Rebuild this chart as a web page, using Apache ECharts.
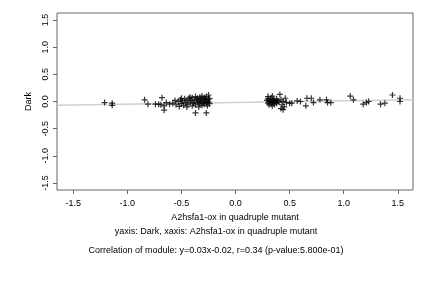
<!DOCTYPE html>
<html><head><meta charset="utf-8">
<script src="https://cdn.jsdelivr.net/npm/echarts@6/dist/echarts.min.js"></script>
<style>html,body{margin:0;padding:0;background:#fff}#c{width:432px;height:288px}</style>
</head><body><div id="c"></div>
<script>
var xTicks = [-1.5, -1.0, -0.5, 0.0, 0.5, 1.0, 1.5];
var yTicks = [-1.5, -1.0, -0.5, 0.0, 0.5, 1.0, 1.5];
var xRange = [-1.65, 1.64];
var yRange = [-1.63, 1.63];
var fitLine = [[-1.65, -0.07], [1.64, 0.03]];
var leftPoints = [
  [-1.21,-0.02],[-1.14,-0.03],[-1.14,-0.07],[-0.84,0.03],[-0.81,-0.05],[-0.74,-0.05],
  [-0.71,-0.05],[-0.69,-0.06],[-0.68,0.07],[-0.66,-0.08],[-0.66,-0.16],[-0.64,-0.02],
  [-0.61,-0.05],[-0.37,-0.21],[-0.27,-0.21],[-0.25,0.12],
  [-0.58,-0.03],[-0.56,0.02],[-0.55,-0.06],[-0.53,0.00],[-0.52,-0.09],[-0.51,0.03],
  [-0.50,-0.04],[-0.49,0.01],[-0.48,-0.07],[-0.47,0.05],[-0.46,-0.02],[-0.45,0.02],
  [-0.44,-0.05],[-0.43,0.06],[-0.42,-0.01],[-0.41,0.03],[-0.40,-0.08],[-0.40,0.07],
  [-0.39,-0.03],[-0.38,0.01],[-0.37,0.09],[-0.37,-0.06],[-0.36,0.04],[-0.35,-0.02],
  [-0.35,0.06],[-0.34,-0.10],[-0.34,0.02],[-0.33,0.08],[-0.33,-0.04],[-0.32,0.00],
  [-0.32,0.05],[-0.31,-0.07],[-0.31,0.10],[-0.30,0.03],[-0.30,-0.02],[-0.29,0.07],
  [-0.29,-0.05],[-0.28,0.01],[-0.28,0.05],[-0.27,-0.03],[-0.27,0.09],[-0.26,0.00],
  [-0.26,-0.08],[-0.25,0.04],[-0.25,-0.01],[-0.24,0.06],[-0.24,-0.04],[-0.45,-0.10],
  [-0.50,0.06],[-0.42,0.08]
];
var rightPoints = [
  [0.30,0.09],[0.34,0.10],[0.41,0.13],[0.42,-0.13],[0.43,-0.06],[0.46,0.06],[0.47,-0.02],
  [0.50,-0.03],[0.52,-0.03],[0.57,0.01],[0.60,0.00],[0.65,-0.08],[0.66,0.06],[0.70,0.06],
  [0.72,-0.02],[0.78,0.03],[0.84,0.03],[0.85,-0.02],[0.88,-0.02],[1.06,0.10],[1.09,0.03],
  [1.18,-0.05],[1.21,-0.02],[1.23,0.00],[1.34,-0.05],[1.38,-0.03],[1.45,0.12],[1.52,0.06],
  [1.52,0.00],
  [0.29,0.02],[0.30,-0.03],[0.30,0.05],[0.31,0.00],[0.31,-0.06],[0.32,0.03],[0.32,-0.01],
  [0.33,0.06],[0.33,-0.04],[0.34,0.01],[0.34,-0.08],[0.35,0.04],[0.35,-0.02],[0.36,0.02],
  [0.36,-0.05],[0.37,0.00],[0.38,0.05],[0.38,-0.03],[0.39,0.01],[0.40,-0.01],[0.42,0.03],
  [0.44,0.00],[0.45,-0.10],[0.44,-0.15]
];
var xTitle = 'A2hsfa1-ox in quadruple mutant';
var yTitle = 'Dark';
var caption1 = 'yaxis: Dark, xaxis: A2hsfa1-ox in quadruple mutant';
var caption2 = 'Correlation of module: y=0.03x-0.02, r=0.34 (p-value:5.800e-01)';

var font = 'Liberation Sans, Arial, sans-serif';
var plusSym = 'path://M2,0H3V2H5V3H3V5H2V3H0V2H2Z';
var chart = echarts.init(document.getElementById('c'), null, {renderer: 'canvas'});
chart.setOption({
  animation: false,
  backgroundColor: '#fff',
  grid: {left: 57, top: 13, width: 356, height: 177, show: true, borderColor: '#666', borderWidth: 1, backgroundColor: 'transparent'},
  xAxis: {
    type: 'value', min: xRange[0], max: xRange[1],
    splitLine: {show: false},
    axisLine: {show: false, onZero: false},
    axisTick: {show: true, inside: false, length: 4, lineStyle: {color: '#666'}, customValues: xTicks},
    axisLabel: {customValues: xTicks, margin: 9, fontSize: 9, fontFamily: font, color: '#000',
      formatter: function (v) { return v.toFixed(1); }},
    name: xTitle, nameLocation: 'middle', nameGap: 21,
    nameTextStyle: {fontSize: 9, fontFamily: font, color: '#000'}
  },
  yAxis: {
    type: 'value', min: yRange[0], max: yRange[1],
    splitLine: {show: false},
    axisLine: {show: false, onZero: false},
    axisTick: {show: true, inside: false, length: 4, lineStyle: {color: '#666'}, customValues: yTicks},
    axisLabel: {customValues: yTicks, margin: 7, rotate: 90, fontSize: 9, fontFamily: font, color: '#000',
      formatter: function (v) { return v.toFixed(1); }},
    name: yTitle, nameLocation: 'middle', nameGap: 18, nameRotate: 90,
    nameTextStyle: {fontSize: 9, fontFamily: font, color: '#000'}
  },
  series: [
    {type: 'line', data: fitLine, symbol: 'none', lineStyle: {color: '#d0d0d0', width: 1.5}, z: 1},
    {type: 'scatter', data: leftPoints, symbol: plusSym, symbolSize: 6, itemStyle: {color: '#000'}, z: 2},
    {type: 'scatter', data: rightPoints, symbol: plusSym, symbolSize: 6, itemStyle: {color: '#000'}, z: 2}
  ],
  graphic: [
    {type: 'text', left: 'center', top: 227, style: {text: caption1, fontSize: 9, fontFamily: font, fill: '#000'}},
    {type: 'text', left: 'center', top: 246, style: {text: caption2, fontSize: 9, fontFamily: font, fill: '#000'}}
  ]
});
</script></body></html>
